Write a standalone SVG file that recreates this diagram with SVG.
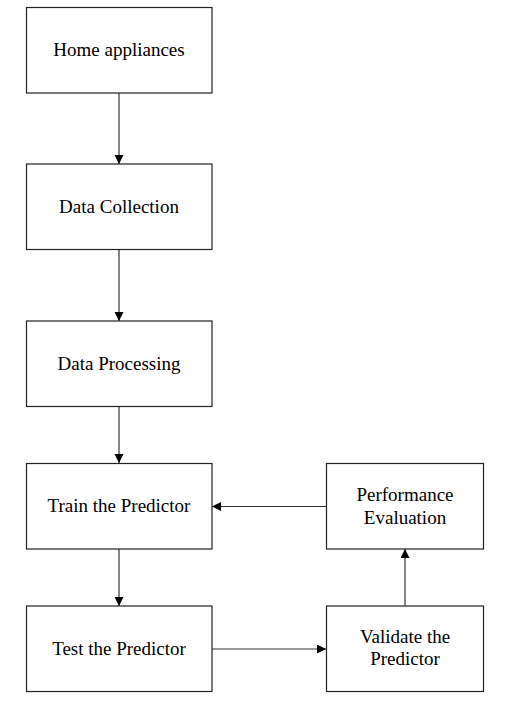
<svg xmlns="http://www.w3.org/2000/svg" width="505" height="705" viewBox="0 0 505 705">
<defs>
<marker id="ah" markerWidth="10" markerHeight="10" refX="9" refY="4.5" orient="auto" markerUnits="userSpaceOnUse">
<path d="M0,0 L9,4.5 L0,9 Z" fill="#000"/>
</marker>
<style>
.box{fill:#fff;stroke:#222;stroke-width:1.2}
.t{font-family:"Liberation Serif","Times New Roman",serif;font-size:19px;fill:#000;text-anchor:middle}
.c{stroke:#333;stroke-width:1.2;fill:none;marker-end:url(#ah)}
</style>
</defs>
<rect width="505" height="705" fill="#fff"/>
<g id="connectors">
<line class="c" x1="119" y1="93" x2="119" y2="164"/>
<line class="c" x1="119" y1="249" x2="119" y2="321"/>
<line class="c" x1="119" y1="406" x2="119" y2="463"/>
<line class="c" x1="119" y1="549" x2="119" y2="606"/>
<line class="c" x1="212" y1="649" x2="326" y2="649"/>
<line class="c" x1="405" y1="606" x2="405" y2="549"/>
<line class="c" x1="326" y1="506.5" x2="212" y2="506.5"/>
</g>
<g id="home">
<rect class="box" x="26.5" y="7.5" width="185.5" height="85.5"/>
<text class="t" x="119" y="56">Home appliances</text>
</g>
<g id="collection">
<rect class="box" x="26.5" y="164" width="185.5" height="85.5"/>
<text class="t" x="119" y="212.5">Data Collection</text>
</g>
<g id="processing">
<rect class="box" x="26.5" y="321" width="185.5" height="85.5"/>
<text class="t" x="119" y="369.5">Data Processing</text>
</g>
<g id="train">
<rect class="box" x="26.5" y="463.5" width="185.5" height="85.5"/>
<text class="t" x="119" y="512">Train the Predictor</text>
</g>
<g id="test">
<rect class="box" x="26.5" y="606" width="185.5" height="85.5"/>
<text class="t" x="119" y="654.5">Test the Predictor</text>
</g>
<g id="performance">
<rect class="box" x="326.5" y="463.5" width="157" height="85.5"/>
<text class="t" x="405" y="501">Performance</text>
<text class="t" x="405" y="523.5">Evaluation</text>
</g>
<g id="validate">
<rect class="box" x="326.5" y="606" width="157" height="85.5"/>
<text class="t" x="405" y="643">Validate the</text>
<text class="t" x="405" y="665">Predictor</text>
</g>
</svg>
